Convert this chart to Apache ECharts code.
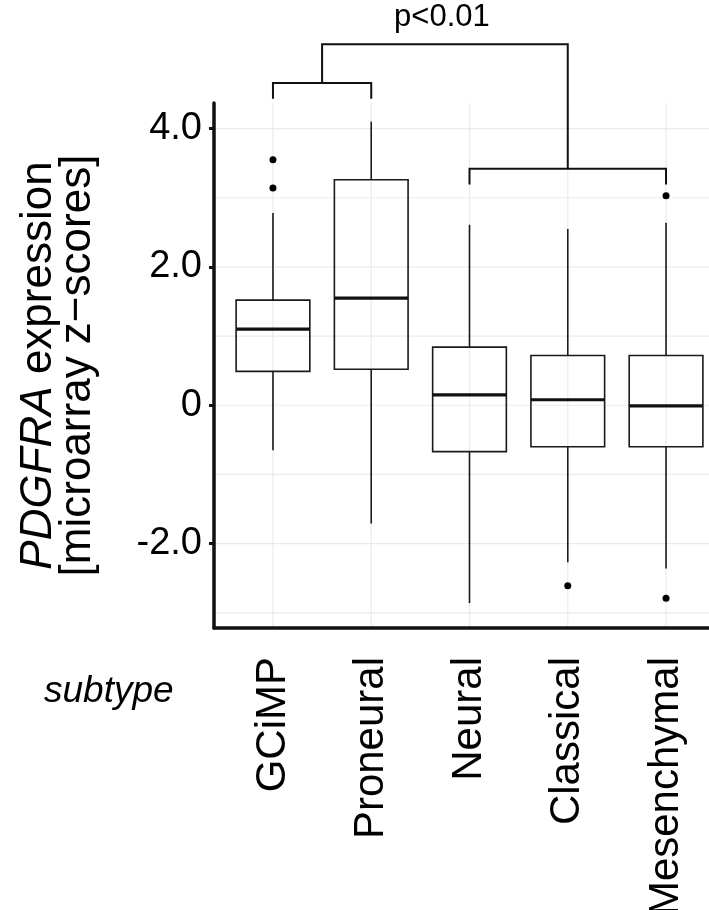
<!DOCTYPE html>
<html>
<head>
<meta charset="utf-8">
<script src="https://cdn.jsdelivr.net/npm/echarts@6/dist/echarts.min.js"></script>
<style>html,body{margin:0;padding:0;background:#fff}#chart{width:709px;height:910px}</style>
</head>
<body>
<div id="chart"></div>
<script>
// ---- data ----
const categories = ['GCiMP', 'Proneural', 'Neural', 'Classical', 'Mesenchymal'];
const lowerWhisker = [-0.65, -1.71, -2.86, -2.27, -2.36];
const q1 = [0.49, 0.52, -0.67, -0.60, -0.60];
const median = [1.10, 1.55, 0.15, 0.08, -0.01];
const q3 = [1.52, 3.26, 0.84, 0.72, 0.72];
const upperWhisker = [2.78, 4.10, 2.61, 2.55, 2.64];
const outlierCategory = ['GCiMP', 'GCiMP', 'Classical', 'Mesenchymal', 'Mesenchymal'];
const outlierValue = [3.55, 3.14, -2.61, 3.03, -2.79];
const yTicks = [-2, 0, 2, 4];
const yTickLabels = ['-2.0', '0', '2.0', '4.0'];
const yGrid = [-3, -2, -1, 0, 1, 2, 3, 4];
// significance brackets (category positions, value levels)
const bracketX1 = [1, 3, 1.5];
const bracketX2 = [2, 5, 4];
const bracketY = [4.66, 3.42, 5.22];
const bracketLegLeft = [4.43, 3.19, 4.66];
const bracketLegRight = [4.43, 3.19, 3.42];
const pLabel = 'p<0.01';

// ---- chart ----
const FONT = '"Liberation Sans", Arial, Helvetica, sans-serif';
const X_MIN = 0.4, X_MAX = 5.6, Y_MIN = -3.22, Y_MAX = 4.37;
const BOX_HALF = 0.375;
const chart = echarts.init(document.getElementById('chart'), null, {renderer: 'canvas'});

const boxData = categories.map((c, i) => [i + 1, lowerWhisker[i], q1[i], median[i], q3[i], upperWhisker[i]]);
const outlierData = outlierCategory.map((c, i) => [categories.indexOf(c) + 1, outlierValue[i]]);
const bracketData = bracketX1.map((x, i) => [x, bracketX2[i], bracketY[i], bracketLegLeft[i], bracketLegRight[i]]);

const option = {
  animation: false,
  backgroundColor: '#ffffff',
  grid: {left: 214, width: 511, top: 103, height: 525, containLabel: false, outerBoundsMode: 'none'},
  xAxis: {
    type: 'value', min: X_MIN, max: X_MAX,
    axisLine: {show: true, onZero: false, lineStyle: {color: '#111', width: 3.5}},
    axisTick: {show: false},
    splitLine: {show: false},
    axisLabel: {
      customValues: [1, 2, 3, 4, 5],
      rotate: 90, margin: 29, hideOverlap: false,
      fontFamily: FONT, fontSize: 42, color: '#000',
      formatter: v => categories[Math.round(v) - 1] || ''
    }
  },
  yAxis: {
    type: 'value', min: Y_MIN, max: Y_MAX,
    axisLine: {show: true, onZero: false, lineStyle: {color: '#111', width: 3.5}},
    axisTick: {show: true, customValues: yTicks, length: 5, lineStyle: {color: '#111', width: 3}},
    splitLine: {show: false},
    axisLabel: {
      customValues: yTicks, margin: 12,
      fontFamily: FONT, fontSize: 38, color: '#000',
      formatter: v => yTickLabels[yTicks.indexOf(v)]
    },
    name: '{it|PDGFRA} expression\n[microarray z\u2212scores]',
    nameLocation: 'middle', nameRotate: 90, nameGap: 117,
    nameTextStyle: {
      fontFamily: FONT, fontSize: 44, color: '#000', lineHeight: 39,
      rich: {it: {fontStyle: 'italic', fontFamily: FONT, fontSize: 44, color: '#000', lineHeight: 39}}
    }
  },
  graphic: [{
    type: 'text', left: 44, top: 673,
    style: {text: 'subtype', font: 'italic 37px ' + FONT, fill: '#000'}
  }],
  series: [
    { // horizontal grid lines
      type: 'custom', silent: true, z: 0,
      data: yGrid.map(v => [v]),
      renderItem: (params, api) => {
        const a = api.coord([X_MIN, api.value(0)]), b = api.coord([X_MAX, api.value(0)]);
        return {type: 'line', shape: {x1: a[0], y1: a[1], x2: b[0], y2: b[1]}, style: {stroke: '#ebebeb', lineWidth: 1.2}};
      }
    },
    { // vertical grid lines at categories
      type: 'custom', silent: true, z: 0,
      data: categories.map((c, i) => [i + 1]),
      renderItem: (params, api) => {
        const a = api.coord([api.value(0), Y_MIN]), b = api.coord([api.value(0), Y_MAX]);
        return {type: 'line', shape: {x1: a[0], y1: a[1], x2: b[0], y2: b[1]}, style: {stroke: '#ebebeb', lineWidth: 1.2}};
      }
    },
    { // boxplots
      type: 'custom', z: 2,
      data: boxData,
      renderItem: (params, api) => {
        const x = api.value(0);
        const lo = api.coord([x, api.value(1)]);
        const b1 = api.coord([x - BOX_HALF, api.value(2)]);
        const m1 = api.coord([x - BOX_HALF, api.value(3)]);
        const m2 = api.coord([x + BOX_HALF, api.value(3)]);
        const b3 = api.coord([x + BOX_HALF, api.value(4)]);
        const hi = api.coord([x, api.value(5)]);
        const q1c = api.coord([x, api.value(2)]);
        const q3c = api.coord([x, api.value(4)]);
        const st = {stroke: '#1a1a1a', lineWidth: 1.6, fill: null};
        return {type: 'group', children: [
          {type: 'line', shape: {x1: hi[0], y1: hi[1], x2: q3c[0], y2: q3c[1]}, style: st},
          {type: 'line', shape: {x1: q1c[0], y1: q1c[1], x2: lo[0], y2: lo[1]}, style: st},
          {type: 'rect', shape: {x: b1[0], y: b3[1], width: b3[0] - b1[0], height: b1[1] - b3[1]}, style: {stroke: '#1a1a1a', lineWidth: 1.6, fill: 'none'}},
          {type: 'line', shape: {x1: m1[0], y1: m1[1], x2: m2[0], y2: m2[1]}, style: {stroke: '#111', lineWidth: 3.2}}
        ]};
      }
    },
    { // outliers
      type: 'scatter', z: 3,
      data: outlierData,
      symbol: 'circle', symbolSize: 7,
      itemStyle: {color: '#000', opacity: 1}
    },
    { // significance brackets
      type: 'custom', z: 4, clip: false, silent: true,
      data: bracketData,
      renderItem: (params, api) => {
        const xl = api.value(0), xr = api.value(1), y = api.value(2);
        const tl = api.coord([xl, y]), tr = api.coord([xr, y]);
        const ll = api.coord([xl, api.value(3)]), lr = api.coord([xr, api.value(4)]);
        const children = [{type: 'polyline', shape: {points: [ll, tl, tr, lr]}, style: {stroke: '#111', lineWidth: 2, fill: null}}];
        if (params.dataIndex === bracketData.length - 1) {
          const c = api.coord([(xl + xr) / 2, y]);
          children.push({type: 'text', x: c[0] - 3, y: c[1] - 11, style: {text: pLabel, font: '31px ' + FONT, fill: '#000', align: 'center', verticalAlign: 'bottom'}});
        }
        return {type: 'group', children};
      }
    }
  ]
};
chart.setOption(option);
</script>
</body>
</html>
